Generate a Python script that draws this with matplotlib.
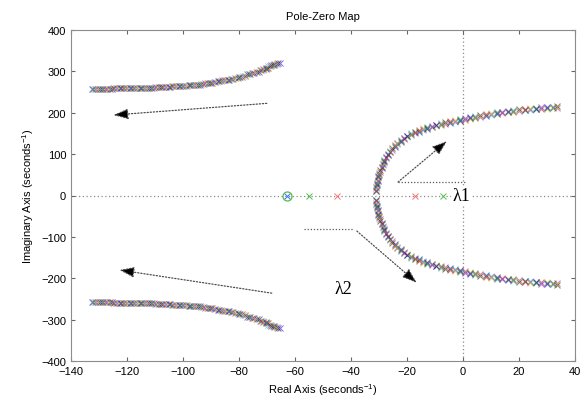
import matplotlib
matplotlib.use("Agg")
import matplotlib.pyplot as plt

# ---- data ----
# upper-left branch of poles (the lower-left branch is its complex conjugate)
ul_re = [-132, -130.5, -129, -127.5, -126, -124.5, -123, -121.5, -120, -118.5, -117, -115.5,
         -114, -112.5, -111, -109.5, -108, -106.5, -105, -103.5, -102, -100.5, -99, -97.5,
         -96, -94.5, -93, -91.5, -90, -88.5, -87, -85.5, -84, -82.5, -81, -79.5, -78, -76.5,
         -75, -73.5, -72, -71, -70, -69, -68, -67, -66]
ul_im = [258, 258, 258, 258.5, 258.5, 259, 259, 259, 259, 259.5, 260, 260, 260.5, 260.5,
         261, 261.5, 262, 262.5, 263, 263.5, 264, 264.5, 265, 266, 267, 268, 269.5, 271,
         272.5, 274, 276, 278, 280, 282, 284.5, 287, 290, 293, 296, 299.5, 303, 306, 309,
         312, 315, 318, 321]
# right upper branch of poles (the lower-right branch is its complex conjugate)
r_re = [-31.0, -30.9, -30.7, -30.5, -30.2, -29.9, -29.5, -29.1, -28.6, -28.1, -27.5, -26.8,
        -26.1, -25.3, -24.4, -23.4, -22.3, -21.1, -19.9, -18.6, -17.2, -15.8, -14.3, -12.8,
        -11.2, -9.6, -8.0, -6.3, -4.6, -2.9, -1.1, 0.7, 2.5, 4.3, 6.2, 8.1, 10.0, 12.0, 14.0,
        16.0, 18.0, 20.0, 22.0, 24.0, 26.0, 28.0, 30.0, 32.0, 33.5]
r_im = [12, 20, 28, 36, 44, 52, 60, 68, 76, 84, 92, 99, 106, 113, 120, 126, 132, 138, 143,
        148, 152.5, 156.5, 160, 163.5, 166.5, 169.5, 172.5, 175, 177.5, 180, 182.5, 185,
        187.5, 190, 192.5, 195, 197, 199, 201, 203, 204.5, 206, 207.5, 209, 210, 211, 212,
        213, 213.5]
# real-axis poles
ax_poles_re = [-62.7, -55.0, -45.0, -17.0, -7.0]
ax_poles_col = ["b", "g", "r", "r", "g"]
# zero
zero_re = [-62.7]
zero_im = [0]

colors = [(0, 0, 1), (0, 0.6, 0), (1, 0, 0), (0, 0.75, 0.75), (0.75, 0, 0.75),
          (0.8, 0.8, 0), (0.15, 0.15, 0.15)]
color_map = {"b": (0.3, 0.4, 1.0), "g": (0.3, 0.75, 0.3), "r": (1.0, 0.45, 0.45)}

xticks = list(range(-140, 41, 20))
yticks = list(range(-400, 401, 100))

plt.rcParams['font.family'] = ['Liberation Sans', 'DejaVu Sans']

fig = plt.figure(figsize=(5.88, 4.10), dpi=100)
ax = fig.add_axes([71 / 588, 1 - 362 / 410, (575 - 71) / 588, (362 - 31) / 410])

# reference dotted axes
ax.axhline(0, color='0.55', ls=(0, (1, 2)), lw=0.9, zorder=1)
ax.axvline(0, color='0.55', ls=(0, (1, 2)), lw=0.9, zorder=1)

ms, mew, al = 4.8, 0.7, 0.55
for i, (re, im) in enumerate(zip(ul_re, ul_im)):
    for k in range(3):
        c = colors[(i * 3 + k) % len(colors)]
        dx = (k - 1) * 0.5
        ax.plot(re + dx, im, 'x', color=c, ms=ms, mew=mew, alpha=al, zorder=3)
        ax.plot(re + dx, -im, 'x', color=c, ms=ms, mew=mew, alpha=al, zorder=3)
for i, (re, im) in enumerate(zip(r_re, r_im)):
    for k in range(3):
        c = colors[(i * 3 + k) % len(colors)]
        dy = (k - 1) * 2.0
        ax.plot(re, im + dy, 'x', color=c, ms=ms, mew=mew, alpha=al, zorder=3)
        ax.plot(re, -im - dy, 'x', color=c, ms=ms, mew=mew, alpha=al, zorder=3)

for re, cname in zip(ax_poles_re, ax_poles_col):
    ax.plot(re, 0, 'x', color=color_map[cname], ms=ms, mew=mew, zorder=4)
ax.plot(zero_re, zero_im, 'o', mfc='none', mec=(0.3, 0.75, 0.3), ms=6.5, mew=0.9, zorder=4)

# annotation arrows
def arrow(tail, tip):
    ax.annotate("", xy=tip, xytext=tail,
                arrowprops=dict(arrowstyle='-|>,head_length=0.9,head_width=0.32',
                                ls=(0, (1, 1.5)), lw=0.9, color='0.3', fc='k',
                                shrinkA=0, shrinkB=0), zorder=6)

arrow((-70.1, 222.7), (-124.9, 194.4))
arrow((-68.3, -236), (-122.75, -180))
ax.plot([-23.2, 0.7], [32.6, 32.6], color='0.35', ls=(0, (1, 1.5)), lw=0.9, zorder=5)
arrow((-23.2, 32.6), (-5.7, 131.6))
ax.plot([-56.8, -39.3], [-81, -81], color='0.35', ls=(0, (1, 1.5)), lw=0.9, zorder=5)
arrow((-37.9, -86), (-16.5, -211))

ax.text(-3.8, 0, "λ1", family=['Liberation Serif'], fontsize=13, va='center', ha='left',
        bbox=dict(fc='white', ec='none', pad=1.0), zorder=7)
ax.text(-42.9, -225, "λ2", family=['Liberation Serif'], fontsize=13, va='center', ha='center',
        zorder=7)

ax.set_xlim(-140, 40)
ax.set_ylim(-400, 400)
ax.set_xticks(xticks)
ax.set_yticks(yticks)
ax.tick_params(direction='in', top=True, right=True, labelsize=8, length=3, color='0.4')
for s in ax.spines.values():
    s.set_color('0.55')
    s.set_linewidth(0.8)

ax.set_title("Pole-Zero Map", fontsize=8, pad=8)
ax.set_xlabel("Real Axis (seconds$^{\\mathregular{-1}}$)", fontsize=8, labelpad=4)
ax.set_ylabel("Imaginary Axis (seconds$^{\\mathregular{-1}}$)", fontsize=8, labelpad=4)

fig.savefig("out.png", dpi=100)
